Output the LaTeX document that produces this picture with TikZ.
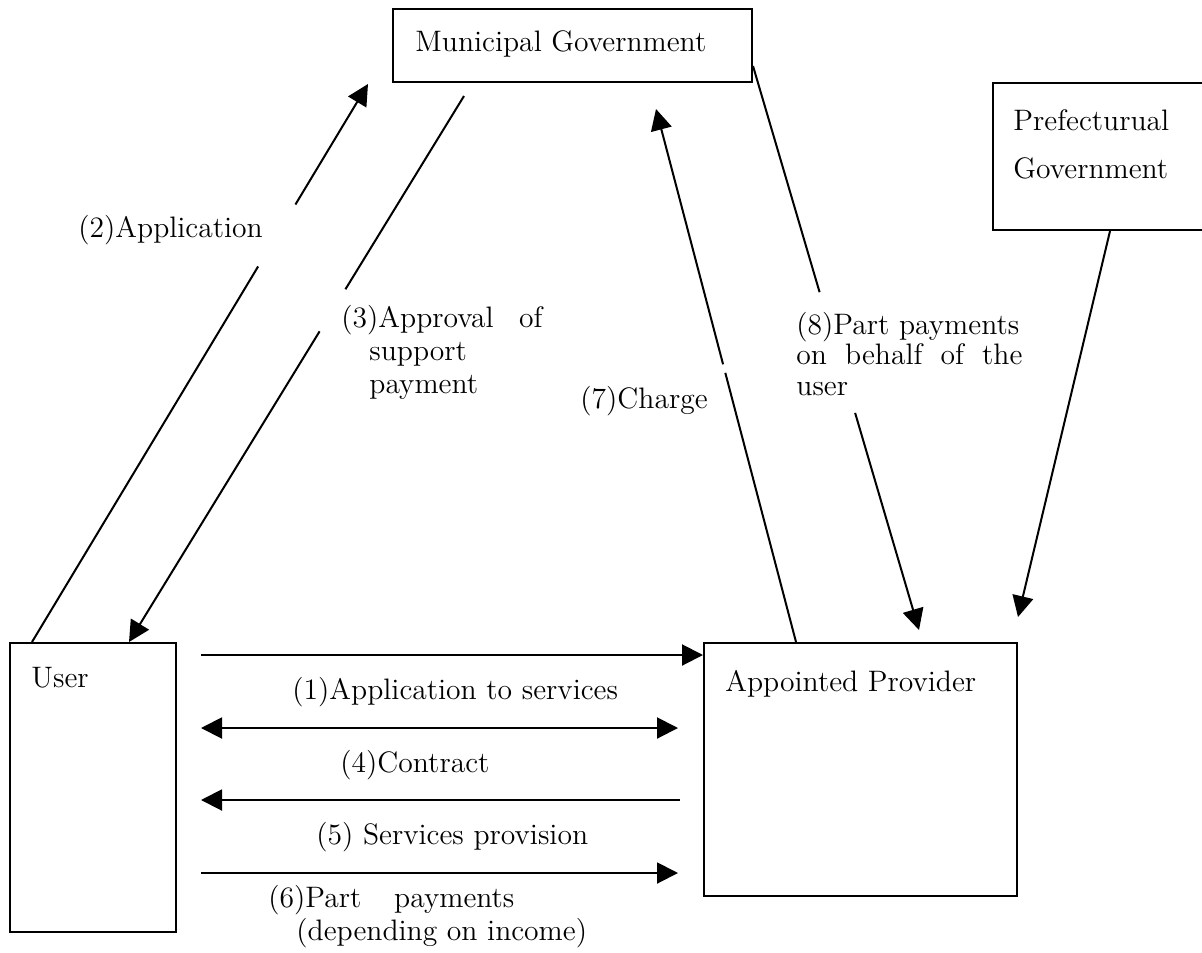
\documentclass[tikz,border=0pt]{standalone}
\usetikzlibrary{arrows.meta,calc,fit}
\tikzset{
  box/.style={draw, line width=1pt, inner sep=0pt, rectangle},
  lbl/.style={anchor=base west, inner sep=0pt, font=\fontsize{14.8pt}{17pt}\selectfont},
  conn/.style={line width=1pt},
  arr/.style={line width=1pt, -{Triangle[length=10.5pt,width=10.5pt]}},
  darr/.style={line width=1pt, {Triangle[length=10.5pt,width=10.5pt]}-{Triangle[length=10.5pt,width=10.5pt]}},
}
\begin{document}
\begin{tikzpicture}[x=0.5pt,y=-0.5pt]
\clip (0,0) rectangle (1202,952);
\fill[white] (0,0) rectangle (1202,952);
% boxes
\node[box, fit={(393,9)(752,82)}] (muni) {};
\node[box, fit={(993,83)(1220,230)}] (pref) {};
\node[box, fit={(10,643)(176,932)}] (user) {};
\node[box, fit={(704,643)(1017,896)}] (prov) {};
% box texts
\node[lbl] (tmuni) at (415,52) {Municipal Government};
\node[lbl] (tpref1) at (1013,131) {Prefecturual};
\node[lbl] (tpref2) at (1013,178) {Government};
\node[lbl] (tuser) at (31,687) {User};
\node[lbl] (tprov) at (725,691) {Appointed Provider};
% end points of diagonal connectors
\coordinate (S2) at ($(user.north west)+(23,0)$);
\coordinate (T2) at ($(muni.south west)+(-24,1)$);
\coordinate (S3) at ($(muni.south west)+(72,13)$);
\coordinate (T3) at ($(user.north west)+(120,0)$);
\coordinate (S7) at ($(prov.north west)+(93,0)$);
\coordinate (T7) at ($(muni.south west)+(264,26)$);
\coordinate (S8) at ($(muni.south east)+(0,-17)$);
\coordinate (T8) at ($(prov.north west)+(216,-12)$);
\coordinate (S9) at ($(pref.south west)+(118,0)$);
\coordinate (T9) at ($(prov.north east)+(0,-25)$);
% (2) Application
\draw[conn] (S2) -- ($(S2)!0.673!(T2)$);
\draw[arr] ($(S2)!0.784!(T2)$) -- (T2);
% (3) Approval
\draw[conn] (S3) -- ($(S3)!0.354!(T3)$);
\draw[arr] ($(S3)!0.431!(T3)$) -- (T3);
% (7) Charge
\draw[conn] (S7) -- ($(S7)!0.505!(T7)$);
\draw[arr] ($(S7)!0.521!(T7)$) -- (T7);
% (8) Part payments
\draw[conn] (S8) -- ($(S8)!0.401!(T8)$);
\draw[arr] ($(S8)!0.615!(T8)$) -- (T8);
% Prefectural
\draw[arr] (S9) -- (T9);
% horizontal connectors
\coordinate (y1) at (0,655);
\coordinate (y4) at (0,728);
\coordinate (y5) at (0,800);
\coordinate (y6) at (0,873);
\draw[arr] ($(user.east |- y1)+(24,0)$) -- (prov.west |- y1);
\draw[darr] ($(user.east |- y4)+(24,0)$) -- ($(prov.west |- y4)+(-25,0)$);
\draw[arr] ($(prov.west |- y5)+(-23,0)$) -- ($(user.east |- y5)+(24,0)$);
\draw[arr] ($(user.east |- y6)+(24,0)$) -- ($(prov.west |- y6)+(-25,0)$);
% connector labels
\node[lbl] (l2) at (78,237) {(2)Application};
\node[lbl] (l3a) at (341,327) {\makebox[100.5pt][s]{(3)Approval of}};
\node[lbl] (l3b) at (369,360) {support};
\node[lbl] (l3c) at (369,393) {payment};
\node[lbl] (l7) at (580,408) {(7)Charge};
\node[lbl] (l8a) at (796,334) {(8)Part payments};
\node[lbl] (l8b) at (796,364) {\makebox[113pt][s]{on behalf of the}};
\node[lbl] (l8c) at (796,395) {user};
\node[lbl] (l1) at (292,699) {(1)Application to services};
\node[lbl] (l4) at (340,772) {(4)Contract};
\node[lbl] (l5) at (316,844) {(5) Services provision};
\node[lbl] (l6a) at (268,907) {\makebox[123pt][s]{(6)Part payments}};
\node[lbl] (l6b) at (296,940) {(depending on income)};
\end{tikzpicture}
\end{document}
